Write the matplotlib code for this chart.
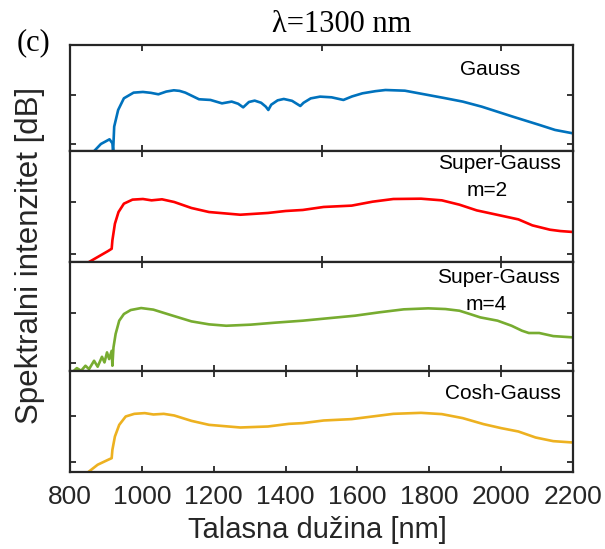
import numpy as np
import matplotlib
matplotlib.use('Agg')
import matplotlib.pyplot as plt

# wavelengths [nm] and spectral intensity [dB]
gauss_x = [870, 886, 910, 918, 920, 923, 934, 950, 977, 1003, 1025, 1046, 1068, 1089, 1105, 1121, 1140, 1159,
           1191, 1223, 1250, 1268, 1282, 1298, 1314, 1332, 1345, 1352, 1360, 1378, 1395, 1418, 1441, 1450, 1470,
           1496, 1528, 1561, 1585, 1614, 1650, 1678, 1732, 1786, 1840, 1893, 1946, 2032, 2107, 2150, 2200]
gauss_y = [-56.5, -50.3, -45.5, -49.6, -58, -32.5, -15.4, -3.4, 2.4, 3.1, 2.2, 0.7, 3.5, 4.8, 4.2, 2.4, -1.0, -4.4,
           -5.1, -8.6, -6.8, -9.0, -12.7, -7.2, -5.8, -8.0, -12.0, -15.4, -10.0, -5.5, -4.1, -6.0, -11.3, -8.0, -3.5,
           -1.7, -2.4, -5.1, -1.5, 1.7, 3.9, 5.1, 4.4, 0.7, -3.0, -6.8, -12.0, -22.2, -30.8, -35.9, -39.4]

sg2_x = [853, 877, 906, 916, 918, 925, 935, 950, 974, 1003, 1027, 1056, 1090, 1138, 1187, 1274, 1351, 1400, 1448,
         1506, 1584, 1642, 1700, 1777, 1835, 1884, 1932, 2000, 2048, 2087, 2136, 2165, 2200]
sg2_y = [-58, -53.2, -47.4, -45.2, -37, -21, -9.7, -1.6, 2.3, 2.9, 1.6, 2.6, 0, -5.8, -9.7, -12.3, -10.6, -8.7,
         -7.7, -4.8, -3.5, 0.3, 2.9, 3.2, 1.6, -2.6, -8.1, -13.2, -16.8, -22.6, -26.8, -28.1, -29]

sg4_x = [809, 819, 831, 843, 853, 867, 877, 889, 896, 903, 909, 916, 918, 921, 927, 937, 950, 969, 998, 1032, 1080,
         1138, 1187, 1235, 1303, 1371, 1448, 1526, 1593, 1661, 1729, 1797, 1845, 1884, 1913, 1942, 1990, 2029, 2058,
         2077, 2106, 2145, 2200]
sg4_y = [-58.7, -55.4, -58, -53, -56.4, -48, -54, -44, -49.7, -39.6, -46.3, -38, -53, -34.6, -21, -7.7, -1, 3, 5,
         3.4, -2, -8.4, -11.4, -12.8, -11.7, -9.7, -7.7, -5, -2.7, 0.7, 3.7, 4.7, 4, 2.3, -1, -4.4, -7.7, -12.8,
         -17.8, -20.1, -20.1, -23.2, -24.5]

cosh_x = [853, 877, 906, 916, 918, 925, 937, 955, 979, 1008, 1032, 1061, 1090, 1138, 1187, 1274, 1351, 1409, 1448,
          1506, 1584, 1642, 1700, 1777, 1835, 1893, 1951, 2000, 2048, 2096, 2145, 2200]
cosh_y = [-60.4, -53, -47.6, -45.8, -36.6, -22, -9.2, 0, 2.9, 3.7, 2.2, 2.9, 1.1, -4.8, -9.2, -12.1, -11, -8.1,
          -7.3, -4.4, -2.9, 0, 2.9, 4, 2.6, -1.8, -8.4, -12.8, -16.5, -23.1, -27.1, -28.6]

series = [(gauss_x, gauss_y), (sg2_x, sg2_y), (sg4_x, sg4_y), (cosh_x, cosh_y)]
colors = ['#0072BD', '#FF0000', '#77AC30', '#EDB120']
names = [['Gauss'], ['Super-Gauss', 'm=2'], ['Super-Gauss', 'm=4'], ['Cosh-Gauss']]
name_pos = [[(1969, 25.7)], [(1995, 37.7), (1961, 11.3)], [(1992, 35.9), (1957, 8.4)], [(2005, 25.6)]]
ylims = [(-57.2, 51.3), (-58.3, 49.6), (-58, 51), (-61, 50.3)]
xt_coarse = [1000, 1500, 2000]
xt_fine = [800, 1000, 1200, 1400, 1600, 1800, 2000, 2200]
top_ticks = [xt_coarse, xt_coarse, xt_coarse, xt_fine]
bot_ticks = [xt_coarse, xt_coarse, xt_fine, xt_fine]

# panel edges in pixels (top, bottom)
W, H = 605, 549
edges = [(45, 150.7), (150.7, 262.3), (262.3, 370.7), (370.7, 472)]
dark = '#262626'
sans = ['Liberation Sans', 'DejaVu Sans']
serif = ['Liberation Serif', 'DejaVu Serif']

fig = plt.figure(figsize=(W / 100, H / 100), dpi=100)
for i, ((x, y), c) in enumerate(zip(series, colors)):
    t, b = edges[i]
    ax = fig.add_axes([70 / W, 1 - b / H, 503 / W, (b - t) / H])
    ax.plot(x, y, color=c, lw=1.9, clip_on=True)
    ax.set_xlim(800, 2200)
    ax.set_ylim(*ylims[i])
    ax.set_yticks([-50, 0])
    ax.set_xticks(bot_ticks[i])
    ax.tick_params(direction='in', length=4.5, width=1.3, color=dark, labelcolor=dark,
                   left=True, right=True, top=False, labelleft=False, labelsize=19)
    if i < 3:
        ax.tick_params(labelbottom=False)
    else:
        for lb in ax.get_xticklabels():
            lb.set_family(sans)
        ax.tick_params(pad=9)
    sec = ax.secondary_xaxis('top')
    sec.set_xticks(top_ticks[i])
    sec.tick_params(direction='in', length=4.5, width=1.3, color=dark, labeltop=False)
    sec.spines['top'].set_visible(False)
    for s in ax.spines.values():
        s.set_linewidth(1.6)
        s.set_color(dark)
    for txt, (px, py) in zip(names[i], name_pos[i]):
        ax.text(px, py, txt, ha='center', va='center', fontsize=15, family=sans, color='black')

fig.text(317 / W, 1 - 538 / H, 'Talasna dužina [nm]', ha='center', va='baseline', fontsize=21,
         family=sans, color=dark)
fig.text(30 / W, 1 - 255 / H, 'Spektralni intenzitet [dB]', ha='center', va='center', rotation=90,
         fontsize=22.5, family=sans, color=dark)
fig.text(342 / W, 1 - 25 / H, 'λ=1300 nm', ha='center', va='center', fontsize=22, family=serif, color='black')
fig.text(33 / W, 1 - 43 / H, '(c)', ha='center', va='center', fontsize=22, family=serif, color='black')

fig.savefig('out.png', dpi=100)
